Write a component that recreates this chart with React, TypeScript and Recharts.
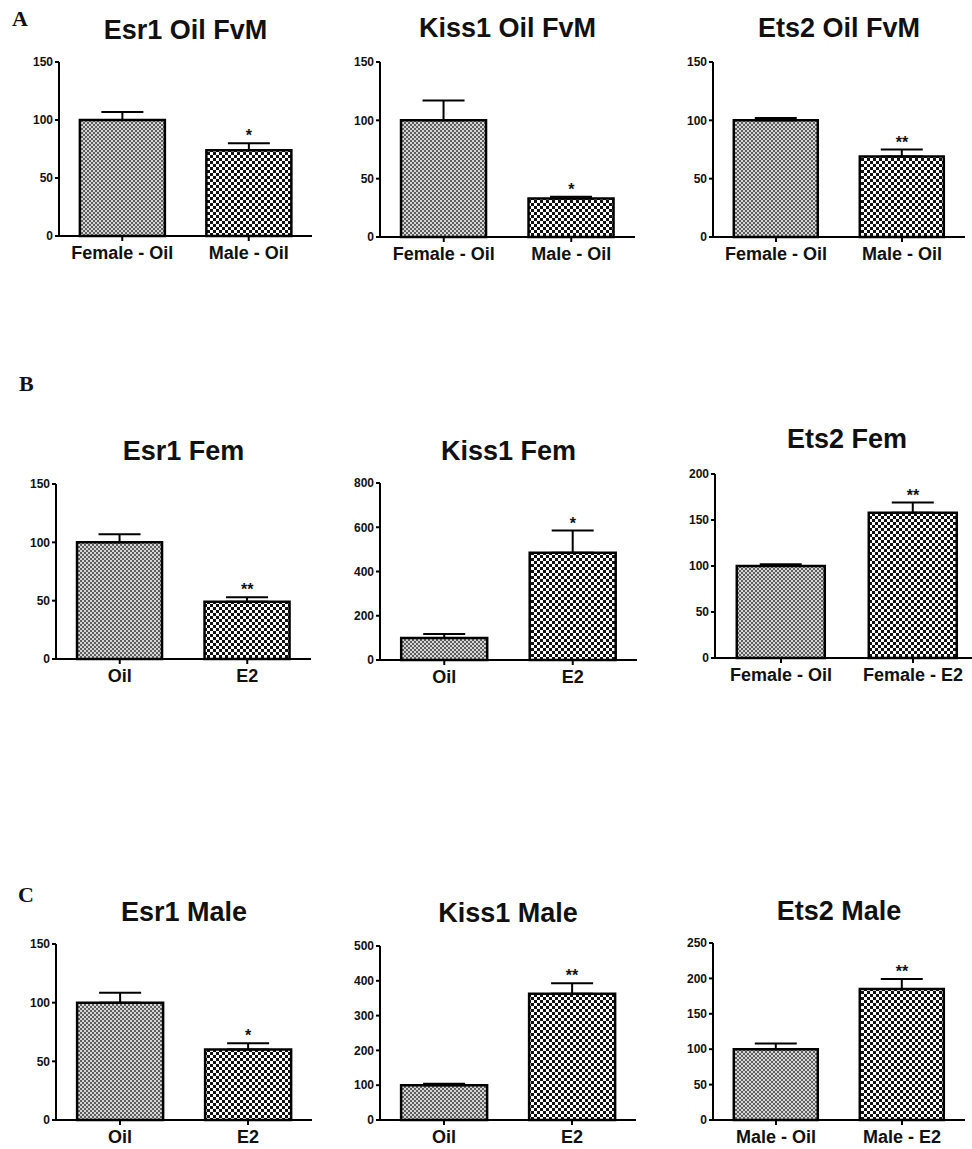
import { Bar, BarChart, Cell, ErrorBar, ReferenceDot, XAxis, YAxis } from 'recharts';

// panel A: female vs male, oil treated
const fvmCategories = ['Female - Oil', 'Male - Oil'];
const esr1FvmMean = [100, 74];
const esr1FvmSem = [7, 6];
const esr1FvmSig = ['', '*'];
const kiss1FvmMean = [100, 33];
const kiss1FvmSem = [17, 1.5];
const kiss1FvmSig = ['', '*'];
const ets2FvmMean = [100, 69];
const ets2FvmSem = [2, 6];
const ets2FvmSig = ['', '**'];
const fvmTicks = [0, 50, 100, 150];

// panel B: females, oil vs E2
const femCategories = ['Oil', 'E2'];
const femEts2Categories = ['Female - Oil', 'Female - E2'];
const esr1FemMean = [100, 49];
const esr1FemSem = [7, 4];
const esr1FemSig = ['', '**'];
const kiss1FemMean = [100, 485];
const kiss1FemSem = [18, 100];
const kiss1FemSig = ['', '*'];
const ets2FemMean = [100, 158];
const ets2FemSem = [2, 11];
const ets2FemSig = ['', '**'];
const esr1FemTicks = [0, 50, 100, 150];
const kiss1FemTicks = [0, 200, 400, 600, 800];
const ets2FemTicks = [0, 50, 100, 150, 200];

// panel C: males, oil vs E2
const maleCategories = ['Oil', 'E2'];
const maleEts2Categories = ['Male - Oil', 'Male - E2'];
const esr1MaleMean = [100, 60];
const esr1MaleSem = [8.5, 5.5];
const esr1MaleSig = ['', '*'];
const kiss1MaleMean = [100, 363];
const kiss1MaleSem = [4, 30];
const kiss1MaleSig = ['', '**'];
const ets2MaleMean = [100, 185];
const ets2MaleSem = [8, 14];
const ets2MaleSig = ['', '**'];
const esr1MaleTicks = [0, 50, 100, 150];
const kiss1MaleTicks = [0, 100, 200, 300, 400, 500];
const ets2MaleTicks = [0, 50, 100, 150, 200, 250];

const FONT = 'Arial, "Liberation Sans", Helvetica, sans-serif';
const Y_AXIS_W = 44;
const MT = 12;
const XAXIS_H = 36;
const FILLS = ['url(#finePattern)', 'url(#coarsePattern)'];

interface PanelProps {
  title: string;
  titleY: number;
  categories: string[];
  means: number[];
  sems: number[];
  sigs: string[];
  ticks: number[];
  axisX: number;
  xEnd: number;
  yTop: number;
  yBot: number;
}

function Panel(props: PanelProps) {
  const data = props.categories.map((name, i) => ({
    name,
    mean: props.means[i],
    err: [0, props.sems[i]],
    top: props.means[i] + props.sems[i],
    sig: props.sigs[i],
  }));
  const width = props.xEnd - props.axisX + Y_AXIS_W;
  const height = MT + (props.yBot - props.yTop) + XAXIS_H;
  const max = props.ticks[props.ticks.length - 1];

  return (
    <div style={{ position: 'absolute', left: props.axisX - Y_AXIS_W, top: props.yTop - MT }}>
      <BarChart
        width={width}
        height={height}
        data={data}
        barCategoryGap="16.5%"
        margin={{ top: MT, right: 0, bottom: 0, left: 0 }}
      >
        <XAxis
          dataKey="name"
          height={XAXIS_H}
          interval={0}
          tickSize={5}
          tickMargin={5}
          axisLine={{ stroke: '#000', strokeWidth: 2 }}
          tickLine={{ stroke: '#000', strokeWidth: 2 }}
          tick={{ fill: '#111', fontSize: 18, fontWeight: 700, fontFamily: FONT }}
        />
        <YAxis
          domain={[0, max]}
          ticks={props.ticks}
          interval={0}
          width={Y_AXIS_W}
          tickSize={4}
          tickMargin={2}
          axisLine={{ stroke: '#000', strokeWidth: 2 }}
          tickLine={{ stroke: '#000', strokeWidth: 2 }}
          tick={{ fill: '#111', fontSize: 12, fontWeight: 700, fontFamily: FONT }}
        />
        <Bar dataKey="mean" stroke="#000" strokeWidth={2.5} isAnimationActive={false}>
          {data.map((d, i) => (
            <Cell key={d.name} fill={FILLS[i % 2]} />
          ))}
          <ErrorBar dataKey="err" direction="y" width={21} stroke="#000" strokeWidth={2} />
        </Bar>
        {data
          .filter((d) => d.sig)
          .map((d) => (
            <ReferenceDot
              key={`sig-${d.name}`}
              x={d.name}
              y={d.top}
              r={0}
              ifOverflow="visible"
              shape={(p: any) => (
                <text
                  x={p.cx}
                  y={p.cy - 2}
                  textAnchor="middle"
                  fontSize={16}
                  fontWeight={700}
                  fontFamily={FONT}
                  fill="#111"
                >
                  {d.sig}
                </text>
              )}
            />
          ))}
      </BarChart>
    </div>
  );
}

const panels: PanelProps[] = [
  { title: 'Esr1 Oil FvM', titleY: 39, categories: fvmCategories, means: esr1FvmMean, sems: esr1FvmSem, sigs: esr1FvmSig, ticks: fvmTicks, axisX: 59, xEnd: 312, yTop: 62, yBot: 236 },
  { title: 'Kiss1 Oil FvM', titleY: 37, categories: fvmCategories, means: kiss1FvmMean, sems: kiss1FvmSem, sigs: kiss1FvmSig, ticks: fvmTicks, axisX: 380, xEnd: 635, yTop: 62, yBot: 237 },
  { title: 'Ets2 Oil FvM', titleY: 37, categories: fvmCategories, means: ets2FvmMean, sems: ets2FvmSem, sigs: ets2FvmSig, ticks: fvmTicks, axisX: 713, xEnd: 965, yTop: 62, yBot: 237 },
  { title: 'Esr1 Fem', titleY: 460, categories: femCategories, means: esr1FemMean, sems: esr1FemSem, sigs: esr1FemSig, ticks: esr1FemTicks, axisX: 56, xEnd: 311, yTop: 484, yBot: 659 },
  { title: 'Kiss1 Fem', titleY: 460, categories: femCategories, means: kiss1FemMean, sems: kiss1FemSem, sigs: kiss1FemSig, ticks: kiss1FemTicks, axisX: 380, xEnd: 637, yTop: 483, yBot: 660 },
  { title: 'Ets2 Fem', titleY: 448, categories: femEts2Categories, means: ets2FemMean, sems: ets2FemSem, sigs: ets2FemSig, ticks: ets2FemTicks, axisX: 715, xEnd: 979, yTop: 474, yBot: 658 },
  { title: 'Esr1 Male', titleY: 921, categories: maleCategories, means: esr1MaleMean, sems: esr1MaleSem, sigs: esr1MaleSig, ticks: esr1MaleTicks, axisX: 56, xEnd: 312, yTop: 944, yBot: 1120 },
  { title: 'Kiss1 Male', titleY: 922, categories: maleCategories, means: kiss1MaleMean, sems: kiss1MaleSem, sigs: kiss1MaleSig, ticks: kiss1MaleTicks, axisX: 380, xEnd: 636, yTop: 946, yBot: 1120 },
  { title: 'Ets2 Male', titleY: 920, categories: maleEts2Categories, means: ets2MaleMean, sems: ets2MaleSem, sigs: ets2MaleSig, ticks: ets2MaleTicks, axisX: 713, xEnd: 965, yTop: 943, yBot: 1120 },
];

const panelLetters = [
  { label: 'A', x: 12, y: 26 },
  { label: 'B', x: 19, y: 391 },
  { label: 'C', x: 18, y: 902 },
];

export default function App() {
  return (
    <div
      style={{
        position: 'absolute',
        left: 0,
        top: 0,
        width: 972,
        height: 1149,
        overflow: 'hidden',
        background: '#fff',
      }}
    >
      <svg width={0} height={0} style={{ position: 'absolute' }}>
        <defs>
          <pattern id="finePattern" patternUnits="userSpaceOnUse" width={4} height={4}>
            <rect width={4} height={4} fill="#d6d6d6" />
            <rect x={0} y={0} width={2} height={2} fill="#5e5e5e" />
            <rect x={2} y={2} width={2} height={2} fill="#5e5e5e" />
          </pattern>
          <pattern id="coarsePattern" patternUnits="userSpaceOnUse" width={6} height={6}>
            <rect width={6} height={6} fill="#fff" />
            <rect x={0} y={0} width={3} height={3} fill="#111" />
            <rect x={3} y={3} width={3} height={3} fill="#111" />
          </pattern>
        </defs>
      </svg>
      {panels.map((p) => (
        <Panel key={p.title} {...p} />
      ))}
      <svg
        width={972}
        height={1149}
        style={{ position: 'absolute', left: 0, top: 0, pointerEvents: 'none' }}
      >
        {panels.map((p) => (
          <text
            key={`t-${p.title}`}
            x={(p.axisX + p.xEnd) / 2}
            y={p.titleY}
            textAnchor="middle"
            fontSize={27}
            fontWeight={700}
            fontFamily={FONT}
            fill="#111"
          >
            {p.title}
          </text>
        ))}
        {panelLetters.map((l) => (
          <text
            key={l.label}
            x={l.x}
            y={l.y}
            fontSize={22}
            fontWeight={700}
            fontFamily='"Times New Roman", "Liberation Serif", serif'
            fill="#111"
          >
            {l.label}
          </text>
        ))}
      </svg>
    </div>
  );
}
